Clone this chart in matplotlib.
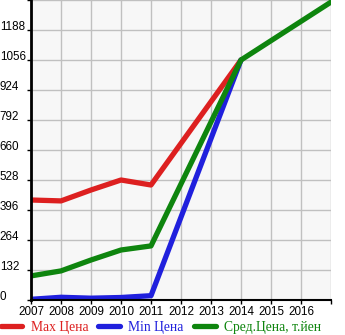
import numpy as np
import matplotlib
matplotlib.use('Agg')
import matplotlib.pyplot as plt
from matplotlib.lines import Line2D

plt.rcParams['font.family'] = ['Liberation Serif', 'DejaVu Serif']

# цены по годам (тыс. йен)
max_years = [2007, 2008, 2009, 2010, 2011, 2014]
max_price = [440, 436, 484, 528, 506, 1056]
min_years = [2007, 2008, 2009, 2010, 2011, 2014]
min_price = [3, 12, 8, 11, 19, 1056]
avg_years = [2007, 2008, 2009, 2010, 2011, 2014, 2017]
avg_price = [106, 128, 176, 220, 238, 1056, 1311]

y_ticks = [0, 132, 264, 396, 528, 660, 792, 924, 1056, 1188]
x_ticks = list(range(2007, 2018))
x_labels = [str(y) for y in range(2007, 2017)] + ['']

names = ['Max Цена', 'Min Цена', 'Сред.Цена, т.йен']
colors = ['#dd2020', '#2020dd', '#0e850e']

fig = plt.figure(figsize=(3.45, 3.35), dpi=100)
ax = fig.add_axes([31/345, 35/335, 300/345, 300/335])
ax.set_facecolor('#f7f7f7')

lw = 3.8
ax.plot(max_years, max_price, color=colors[0], lw=lw, solid_capstyle='round')
ax.plot(min_years, min_price, color=colors[1], lw=lw, solid_capstyle='round')
ax.plot(avg_years, avg_price, color=colors[2], lw=lw, solid_capstyle='round')

ax.set_xlim(2007, 2017)
ax.set_ylim(0, 1320)
ax.set_yticks(y_ticks + [1320])
ax.set_yticklabels([str(v) for v in y_ticks] + [''])
ax.set_xticks(x_ticks)
ax.set_xticklabels(x_labels)
ax.grid(True, color='#c0c0c0', lw=1.0)
ax.set_axisbelow(True)

for s in ['top', 'right']:
    ax.spines[s].set_visible(False)
ax.spines['left'].set_linewidth(2)
ax.spines['bottom'].set_linewidth(1.5)

ax.tick_params(axis='y', length=3, width=1, pad=19.5)
ax.tick_params(axis='x', length=3, width=1, pad=1.5)
for t in ax.get_yticklabels() + ax.get_xticklabels():
    t.set_family(['Liberation Sans', 'DejaVu Sans'])
    t.set_fontsize(8.4)
for t in ax.get_yticklabels():
    t.set_ha('left')
    t.set_va('baseline')

handles = [Line2D([], [], color=c, lw=lw, solid_capstyle='round') for c in colors]
leg = fig.legend(handles, names, loc='lower left', bbox_to_anchor=(-0.006, -0.005),
                 ncol=3, frameon=False, handlelength=1.6, handletextpad=0.6,
                 columnspacing=0.75, fontsize=9.8, borderaxespad=0,
                 borderpad=0.2)
for t, c in zip(leg.get_texts(), colors):
    t.set_color(c)

fig.savefig('out.png', dpi=100)
